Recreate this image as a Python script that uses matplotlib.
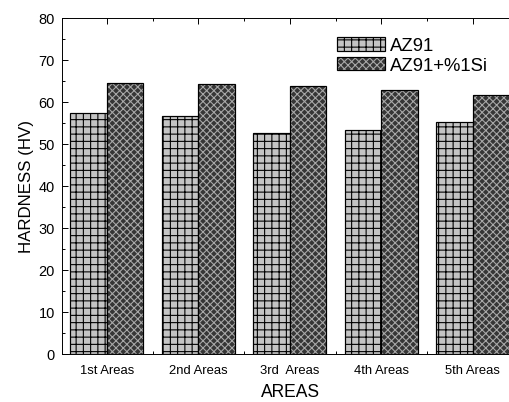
import matplotlib
matplotlib.use("Agg")
import matplotlib.pyplot as plt
import numpy as np
from matplotlib.ticker import MultipleLocator, FixedLocator

categories = ["1st Areas", "2nd Areas", "3rd  Areas", "4th Areas", "5th Areas"]
az91 = [57.4, 56.7, 52.6, 53.4, 55.2]
az91_si = [64.5, 64.3, 63.8, 62.9, 61.7]
series_names = ["AZ91", "AZ91+%1Si"]

DPI = 87
plt.rcParams['font.family'] = ['Liberation Sans', 'DejaVu Sans']
plt.rcParams['hatch.linewidth'] = 0.9

fig = plt.figure(figsize=(509 / DPI, 403 / DPI), dpi=DPI)
ax = fig.add_axes([62 / 509, 1 - 355 / 403, 456.6 / 509, 336 / 403])

x = np.arange(len(categories))
w = 0.40

b1 = ax.bar(x - w / 2, az91, width=w, color='#c4c4c4', edgecolor='black',
            hatch='++', linewidth=1.0, zorder=2)
b2f = ax.bar(x + w / 2, az91_si, width=w, color='#363636', edgecolor='#a8a8a8',
             hatch='xxxx', linewidth=0, zorder=2)
b2e = ax.bar(x + w / 2, az91_si, width=w, fill=False, edgecolor='black',
             linewidth=1.0, zorder=3)

ax.set_xlim(-0.49, 4.5)
ax.set_ylim(0, 80)
ax.yaxis.set_major_locator(MultipleLocator(10))
ax.yaxis.set_minor_locator(MultipleLocator(5))
ax.set_xticks(x)
ax.set_xticklabels(categories)
ax.xaxis.set_minor_locator(FixedLocator(x[:-1] + 0.5))

ax.tick_params(axis='both', which='both', direction='in', top=True, right=True)
ax.tick_params(axis='both', which='major', length=5, width=0.8)
ax.tick_params(axis='both', which='minor', length=2.5, width=0.8)
ax.tick_params(axis='y', labelsize=12, pad=6)
ax.tick_params(axis='x', labelsize=10.8, pad=8)

ax.set_xlabel("AREAS", fontsize=14.5, labelpad=6)
ax.set_ylabel("HARDNESS (HV)", fontsize=14, labelpad=4)

ax.legend([b1[0], (b2f[0], b2e[0])], series_names, loc='upper left',
          bbox_to_anchor=(0.585, 0.965), frameon=False, fontsize=15.3,
          handlelength=2.6, handleheight=0.75, handletextpad=0.3,
          labelspacing=0.12, borderaxespad=0)

fig.savefig("out.png", dpi=DPI)
